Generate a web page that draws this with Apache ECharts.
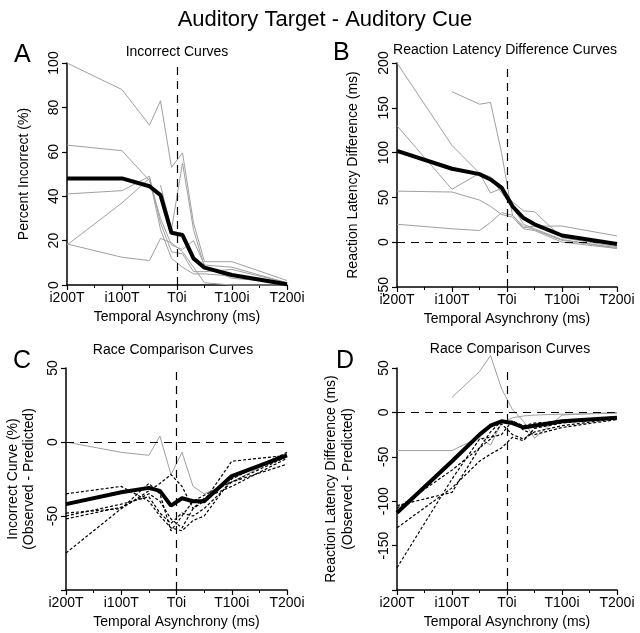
<!DOCTYPE html>
<html><head><meta charset="utf-8">
<script src="https://cdn.jsdelivr.net/npm/echarts@6/dist/echarts.min.js"></script>
<style>html,body{margin:0;padding:0;background:#fff}#c{width:640px;height:633px}</style>
</head><body><div id="c"></div>
<script>
// Temporal asynchrony positions (ms; negative = cue precedes target)
const asynchrony = [-200, -100, -50, -30, -10, 10, 30, 50, 100, 200];
const tickValues = [-200, -100, 0, 100, 200];
const tickLabels = ['i200T', 'i100T', 'T0i', 'T100i', 'T200i'];

// Panel A: Incorrect curves (%)
const incorrectMean = [48, 48, 44.5, 40.5, 23.5, 22.5, 12, 7.8, 4.5, 0.3];
const incorrectSubj1 = [100, 88, 72, 83, 53, 59.5, 28, 10.5, 10.5, 2];
const incorrectSubj2 = [63, 60.5, 47, 30, 18, 16, 20, 9, 8, 1];
const incorrectSubj3 = [41, 42.5, 49, 28, 15, 14, 6, 6, 7, 1];
const incorrectSubj4 = [18, 37, 48, 25, 12, 8, 5, 5, 4, 0];
const incorrectSubj5 = [18.5, 12.5, 11, 21, 19, 15, 8, 1, 0, 0];
const incorrectSubj6 = [null, null, null, 45, 25, 55, 25, 8, 3, 1];

// Panel B: Reaction latency difference curves (ms)
const latencyMean = [102, 82, 76, 70, 61, 40, 27, 20, 7.5, -2];
const latencySubj1 = [200, 108, 77, 55, 60, 45, 35, 34, 5, -5];
const latencySubj2 = [130, 59, 77, 73, 55, 40, 20, 15, 3, -7];
const latencySubj3 = [null, 168, 154, 156, 100, 30, 18, 14, 2, -6];
const latencySubj4 = [57, 56, 47, 40, 31, 28, 15, 13, 0, -7];
const latencySubj5 = [20, 15, 13, 22, 33, 30, 16, 18, 18, 7];

// Panel C: Race comparison, incorrect (%), observed - predicted
const raceIncMean = [-42, -34, -31, -33, -43, -38, -40, -40, -23, -9];
const raceIncGray = [0, -7, -9, 4, -22, -7, -30, -35, -27, -8];
const raceIncD1 = [-35, -30, -40, -50, -58, -60, -53, -50, -25, -7];
const raceIncD2 = [-48, -45, -33, -28, -22, -30, -45, -40, -13, -9];
const raceIncD3 = [-52, -44, -35, -40, -52, -58, -45, -38, -30, -11];
const raceIncD4 = [-75, -45, -28, -35, -60, -50, -40, -36, -27, -15];
const raceIncD5 = [-50, -42, -37, -48, -55, -48, -50, -45, -27, -10];

// Panel D: Race comparison, latency (ms), observed - predicted
const raceLatMean = [-113, -55, -25, -15, -10, -12, -17, -15, -10, -6];
const raceLatGray1 = [-43, -43, -28, -37, -12, -6, -4, -3, -2, -1];
const raceLatGray2 = [null, 17, 46, 64, 27, 3, -10, -29, -3, 0];
const raceLatD1 = [-105, -90, -40, -30, -13, -25, -30, -22, -15, -7];
const raceLatD2 = [-130, -85, -55, -47, -40, -28, -32, -18, -12, -6];
const raceLatD3 = [-175, -75, -30, -28, -25, -9, -20, -25, -17, -8];
const raceLatD4 = [-108, -65, -40, -22, -10, -10, -15, -12, -10, -5];

const FONT = '"Liberation Sans", Arial, Helvetica, sans-serif';
const pairs = v => asynchrony.map((x, i) => [x, v[i]]);

const grids = [
  {left: 67, right: 353, top: 63, bottom: 348},
  {left: 397, right: 23, top: 63, bottom: 346},
  {left: 66, right: 353, top: 368, bottom: 43},
  {left: 397, right: 23, top: 368, bottom: 43}
].map(g => Object.assign(g, {containLabel: false, outerBoundsMode: 'none'}));

function xAxis(gi) {
  return {
    type: 'value', gridIndex: gi, min: -200, max: 200, interval: 100,
    name: 'Temporal Asynchrony (ms)', nameLocation: 'middle', nameGap: 25,
    nameTextStyle: {fontFamily: FONT, fontSize: 14, color: '#000'},
    axisLine: {onZero: false, lineStyle: {color: '#000', width: 1.5}},
    axisTick: {length: 5, lineStyle: {color: '#000', width: 1.2}},
    minorTick: {show: true, splitNumber: 2, length: 3, lineStyle: {color: '#000', width: 1}},
    splitLine: {show: false},
    axisLabel: {fontFamily: FONT, fontSize: 14, color: '#000', margin: 6,
      formatter: v => { const i = tickValues.indexOf(v); return i >= 0 ? tickLabels[i] : ''; }}
  };
}
function yAxis(gi, min, max, interval, name, gap, lh, hide) {
  return {
    type: 'value', gridIndex: gi, min: min, max: max, interval: interval,
    name: name, nameLocation: 'middle', nameGap: gap, nameRotate: 90,
    nameTextStyle: {fontFamily: FONT, fontSize: 14, color: '#000', lineHeight: lh},
    axisLine: {show: true, onZero: false, lineStyle: {color: '#000', width: 1.5}},
    axisTick: {show: true, length: 5, lineStyle: {color: '#000', width: 1.2}},
    splitLine: {show: false},
    axisLabel: {fontFamily: FONT, fontSize: 14, color: '#000', rotate: 90, margin: 6,
      formatter: v => (hide !== undefined && v === hide) ? '' : String(v)}
  };
}

const series = [];
function addLine(gi, vals, kind) {
  const style = kind === 'mean' ? {color: '#000', width: 4}
    : kind === 'gray' ? {color: '#a0a0a0', width: 1}
    : {color: '#000', width: 1.2, type: [3, 2]};
  series.push({type: 'line', xAxisIndex: gi, yAxisIndex: gi, data: pairs(vals),
    showSymbol: false, silent: true, lineStyle: style, z: kind === 'mean' ? 5 : 3,
    connectNulls: false, clip: false, animation: false});
}
function addRefs(gi, horizontal) {
  const d = [{xAxis: 0}];
  if (horizontal) d.push({yAxis: 0});
  series.push({type: 'line', xAxisIndex: gi, yAxisIndex: gi, data: [], silent: true, animation: false,
    markLine: {silent: true, symbol: 'none', label: {show: false},
      lineStyle: {color: '#000', width: 1.2, type: [8, 6]}, data: d, animation: false}});
}

addRefs(0, false);
[incorrectSubj1, incorrectSubj2, incorrectSubj3, incorrectSubj4, incorrectSubj5, incorrectSubj6].forEach(v => addLine(0, v, 'gray'));
addLine(0, incorrectMean, 'mean');

addRefs(1, true);
[latencySubj1, latencySubj2, latencySubj3, latencySubj4, latencySubj5].forEach(v => addLine(1, v, 'gray'));
addLine(1, latencyMean, 'mean');

addRefs(2, true);
addLine(2, raceIncGray, 'gray');
[raceIncD1, raceIncD2, raceIncD3, raceIncD4, raceIncD5].forEach(v => addLine(2, v, 'dash'));
addLine(2, raceIncMean, 'mean');

addRefs(3, true);
addLine(3, raceLatGray1, 'gray');
addLine(3, raceLatGray2, 'gray');
[raceLatD1, raceLatD2, raceLatD3, raceLatD4].forEach(v => addLine(3, v, 'dash'));
addLine(3, raceLatMean, 'mean');

const sub = (text, x, y) => ({text: text, left: x, top: y, textAlign: 'center',
  textStyle: {fontFamily: FONT, fontSize: 14, fontWeight: 'normal', color: '#000'}});
const letter = (text, x, y) => ({text: text, left: x, top: y,
  textStyle: {fontFamily: FONT, fontSize: 25, fontWeight: 'normal', color: '#000'}});

const chart = echarts.init(document.getElementById('c'), null, {renderer: 'canvas'});
chart.setOption({
  backgroundColor: '#fff',
  animation: false,
  title: [
    {text: 'Auditory Target - Auditory Cue', left: 320, top: 4, textAlign: 'center',
      textStyle: {fontFamily: FONT, fontSize: 22, fontWeight: 'normal', color: '#000'}},
    sub('Incorrect Curves', 172, 40),
    sub('Reaction Latency Difference Curves', 500, 38),
    sub('Race Comparison Curves', 168, 338),
    sub('Race Comparison Curves', 505, 337),
    letter('A', 9, 38), letter('B', 328, 36), letter('C', 8, 344), letter('D', 331, 344)
  ],
  grid: grids,
  xAxis: [xAxis(0), xAxis(1), xAxis(2), xAxis(3)],
  yAxis: [
    yAxis(0, 0, 100, 20, 'Percent Incorrect (%)', 33, 19),
    yAxis(1, -50, 200, 50, 'Reaction Latency Difference (ms)', 34, 19),
    yAxis(2, -100, 50, 50, 'Incorrect Curve (%)\n(Observed - Predicted)', 29, 16, -100),
    yAxis(3, -200, 50, 50, 'Reaction Latency Difference (ms)\n(Observed - Predicted)', 40, 17, -200)
  ],
  series: series
});
</script></body></html>
